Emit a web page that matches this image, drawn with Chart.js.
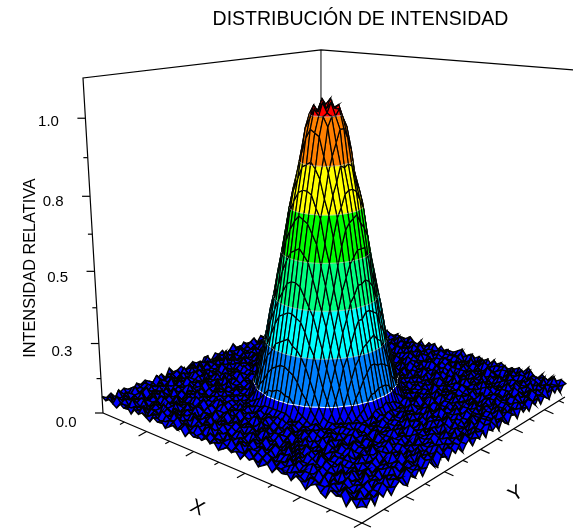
<!DOCTYPE html>
<html>
<head>
<meta charset="utf-8">
<title>Distribución de intensidad</title>
<script src="https://cdn.jsdelivr.net/npm/chart.js@4/dist/chart.umd.min.js"></script>
<style>
  html, body { margin: 0; padding: 0; background: #fff; }
  canvas { display: block; }
</style>
</head>
<body>
<canvas id="surfaceChart" width="573" height="529"></canvas>
<script>
// surface heights, in hundredths (row = X, column = Y)
const heights = [
[6,5,6,4,5,6,5,4,6,5,6,5,4,5,6,4,7,5,5,6,4,5,6,5,3,6,5,4,6,5,6,4,5,7,5,4,6,5,5,6,4,6,5,5,4,6,5,7,4,5,6,5,4,6,5,6,5,4,5,6,5],
[5,6,4,7,5,4,6,5,5,6,4,5,7,5,4,6,5,6,4,5,5,6,4,6,5,7,4,5,6,5,4,6,5,5,6,4,5,6,7,4,5,5,6,4,6,5,4,5,6,5,7,4,6,5,5,4,6,5,6,4,5],
[6,4,5,5,6,5,7,4,5,6,5,4,6,5,6,5,4,5,7,4,6,5,5,4,6,5,5,6,4,7,5,5,4,6,5,6,4,5,5,6,4,6,5,7,5,4,6,5,5,6,4,5,5,6,4,6,7,5,4,5,6],
[5,7,5,6,4,5,5,6,4,6,5,6,4,5,5,4,6,6,5,5,4,7,5,6,4,5,6,5,5,4,6,5,7,4,5,5,6,4,6,5,5,4,7,5,6,4,5,6,5,4,6,5,6,4,5,7,5,4,6,5,4],
[4,5,6,5,5,4,6,7,5,4,6,5,5,7,4,6,5,4,6,5,6,5,4,5,6,5,4,7,5,6,4,5,6,5,4,6,5,7,5,4,6,5,5,6,4,5,6,4,7,5,5,6,4,5,6,5,4,6,5,6,5],
[6,5,4,6,5,7,4,5,6,5,4,6,5,4,6,5,6,5,7,4,5,6,4,5,5,6,5,4,6,5,5,7,4,6,5,4,5,6,4,5,6,5,7,4,5,6,5,4,6,5,5,4,6,7,4,5,6,5,5,4,6],
[5,4,7,5,6,4,5,6,5,5,6,4,6,5,5,7,4,5,6,5,4,6,5,5,7,4,6,5,4,5,6,5,5,6,4,7,5,4,6,5,5,6,4,5,6,5,4,7,5,5,6,4,5,6,5,4,6,5,7,4,5],
[6,5,5,4,6,5,6,4,7,5,4,5,6,5,4,6,5,5,4,7,5,5,6,4,6,5,4,6,5,7,4,5,6,5,4,6,5,5,6,4,7,5,5,4,6,5,6,5,4,6,5,7,4,5,5,6,4,6,5,5,6],
[4,6,5,7,4,5,5,6,5,4,7,5,5,6,4,5,6,4,6,5,6,4,5,7,5,4,5,6,6,4,5,5,7,4,6,5,6,4,5,5,6,4,6,5,7,4,5,5,6,4,5,6,5,4,7,5,5,6,4,6,5],
[6,5,6,4,5,6,4,5,6,5,5,6,4,7,5,5,4,6,5,5,7,4,6,5,5,6,4,5,6,5,4,7,5,5,4,6,5,6,4,7,5,5,6,4,5,6,5,4,6,5,5,6,4,7,5,4,6,5,5,6,4],
[5,7,4,5,6,5,7,4,5,6,4,5,6,5,4,6,7,5,4,6,5,4,6,5,6,5,7,4,5,5,6,4,6,5,5,7,4,5,6,5,4,6,5,5,6,4,7,5,5,6,4,5,6,5,4,6,5,7,4,5,6],
[6,4,6,5,5,4,6,5,7,4,5,6,5,5,6,4,5,5,6,4,7,5,5,4,6,5,6,4,7,5,5,6,4,5,6,5,5,4,6,5,7,4,5,6,4,5,6,5,4,7,5,6,4,5,6,5,4,6,5,5,4],
[5,5,6,4,7,5,5,6,4,5,6,4,7,5,5,6,4,6,5,5,4,6,5,7,4,5,6,5,5,4,6,5,6,4,5,7,5,4,6,5,5,6,4,5,7,5,4,6,5,5,6,4,7,5,5,6,4,5,6,5,7],
[4,6,5,5,6,4,7,5,5,4,6,5,5,6,4,5,6,5,4,7,5,6,4,5,5,6,4,7,5,6,5,4,5,6,4,5,6,5,7,4,5,6,5,4,6,5,5,6,4,5,6,5,5,4,6,7,5,4,5,6,5],
[6,5,7,4,5,6,4,5,6,5,7,4,6,5,4,6,5,5,6,4,5,5,6,5,4,6,5,6,4,5,5,7,4,6,5,5,4,6,5,6,4,5,5,7,4,6,5,4,6,5,7,5,4,5,6,4,6,5,5,4,6],
[5,4,6,5,6,4,5,7,5,4,6,5,5,6,5,4,6,5,5,6,5,4,5,5,6,6,7,8,7,7,7,6,7,6,5,5,6,5,4,5,6,5,5,4,6,5,4,6,7,5,5,4,6,5,6,4,5,7,5,6,4],
[6,5,5,7,4,5,6,5,4,6,7,4,5,6,6,5,4,5,6,5,5,6,6,7,8,10,12,13,13,12,12,11,10,8,7,6,5,5,6,4,5,6,5,5,5,6,4,5,5,6,7,4,5,6,5,4,6,5,6,4,5],
[4,6,5,4,6,5,5,7,6,4,5,5,6,4,5,6,5,4,5,6,5,7,9,12,14,17,19,20,21,21,20,19,17,14,12,9,7,6,5,5,4,6,5,5,6,4,7,5,6,4,5,6,5,5,7,4,6,5,4,6,5],
[5,6,7,5,4,6,5,4,5,6,6,4,7,5,4,5,6,5,5,6,7,10,14,18,22,25,27,28,29,29,28,26,24,22,18,15,10,7,5,6,5,4,5,6,4,5,6,5,4,6,5,7,4,6,5,5,6,4,7,5,6],
[6,4,5,6,5,7,4,6,5,4,5,6,5,6,6,5,4,6,5,8,12,16,21,25,29,33,36,37,38,38,37,35,33,29,25,21,17,12,8,5,6,5,4,5,5,7,4,6,5,5,6,4,5,6,5,4,6,5,6,7,4],
[5,5,6,4,7,5,5,6,4,6,5,7,4,5,5,6,5,5,7,12,17,22,27,33,37,41,44,47,48,49,46,44,41,37,32,27,22,17,12,8,5,4,6,5,6,4,5,5,7,4,6,5,6,4,5,7,5,4,5,6,5],
[6,7,4,5,6,4,6,5,7,4,5,5,6,4,4,5,6,7,10,16,22,28,35,40,45,50,54,57,58,58,57,55,50,45,40,34,28,22,16,10,7,5,5,6,5,6,4,5,6,5,4,7,5,6,5,4,6,5,4,5,6],
[4,5,6,5,5,6,7,4,5,6,4,6,5,7,5,6,6,9,14,21,27,35,41,48,54,60,64,67,69,68,67,65,60,54,48,42,35,27,21,14,9,6,5,4,6,5,7,4,5,6,5,4,6,5,5,7,4,6,5,5,4],
[6,5,7,4,6,5,4,5,6,7,5,4,6,5,6,5,7,12,18,25,33,40,48,55,62,69,73,76,77,78,75,74,69,62,55,47,40,33,25,18,12,7,5,5,4,6,5,6,7,4,5,6,5,4,6,5,5,4,7,6,5],
[5,4,5,6,5,7,5,6,4,5,6,7,5,4,4,6,8,14,22,29,37,45,54,62,70,76,80,84,85,86,83,81,75,70,62,55,45,37,29,22,14,8,6,5,6,5,4,7,5,5,6,4,5,6,7,4,5,6,5,4,6],
[6,6,4,7,5,4,6,5,5,7,4,5,6,5,5,6,10,17,24,33,41,50,60,69,76,82,88,93,96,95,94,87,82,77,68,60,51,41,33,24,17,10,6,5,7,4,5,6,4,6,5,7,4,5,6,5,4,6,5,7,5],
[5,5,6,4,6,7,4,5,6,4,6,5,4,6,6,7,12,19,27,36,44,54,64,73,80,88,96,100,102,100,101,95,89,80,72,64,54,45,36,27,19,12,7,4,5,6,5,4,6,5,5,6,4,7,5,5,6,4,6,5,4],
[7,4,5,6,5,5,6,7,4,5,5,6,7,4,5,7,12,20,28,37,47,57,67,76,84,93,99,103,101,104,101,100,92,84,77,67,57,47,37,28,20,13,7,5,6,4,6,7,5,4,5,6,5,7,4,6,5,5,6,4,6],
[5,6,5,4,6,4,5,6,5,6,4,7,5,5,6,7,13,21,29,38,48,58,69,77,85,96,102,101,105,103,104,100,97,85,78,69,58,48,38,29,21,13,7,6,5,5,6,4,7,5,6,4,6,5,5,4,7,5,6,5,4],
[6,5,4,7,5,6,5,4,6,5,5,4,6,6,5,7,13,21,30,38,48,59,68,77,86,95,100,104,102,105,102,102,96,86,77,68,58,49,38,29,22,13,7,5,6,4,5,6,5,7,4,5,6,4,6,5,6,7,4,5,6],
[4,6,6,5,5,7,4,5,6,4,7,5,4,5,6,7,12,20,28,37,47,57,67,76,84,94,100,101,104,102,103,99,93,84,76,66,57,47,38,28,20,12,8,5,7,5,6,4,5,6,5,4,7,5,4,6,5,5,4,6,5],
[5,5,7,4,6,5,6,5,4,6,5,5,6,4,5,7,12,19,27,36,44,55,64,72,81,88,97,100,100,102,99,96,88,81,73,64,53,44,36,27,18,12,7,6,4,6,5,5,6,4,7,5,6,5,5,4,6,6,5,7,4],
[6,4,5,6,5,4,7,5,6,5,6,4,5,7,4,6,10,17,25,33,41,50,61,69,75,83,88,92,96,96,93,89,81,76,69,60,50,42,33,24,17,10,6,5,5,6,4,7,5,5,6,4,5,7,6,5,4,6,5,5,6],
[5,6,7,5,4,6,5,4,7,5,4,6,5,6,6,5,8,14,22,29,38,45,54,61,70,76,80,85,84,85,84,79,76,71,62,54,46,37,29,21,14,8,5,6,4,5,6,5,7,4,6,5,5,4,6,7,5,4,6,5,4],
[6,5,4,6,7,5,4,6,5,6,5,5,4,6,5,6,7,12,18,26,33,40,48,55,63,69,72,76,77,77,76,73,70,62,54,48,40,33,25,18,12,7,6,4,6,7,5,4,6,5,5,6,4,6,5,4,6,7,5,6,5],
[4,5,6,5,5,6,7,5,4,6,5,7,6,4,4,5,6,9,14,21,28,35,41,47,54,60,65,67,68,69,66,64,61,54,48,41,36,27,21,14,9,6,5,6,5,4,6,5,5,7,4,6,5,5,6,4,5,6,7,4,5],
[6,7,4,5,6,4,5,6,7,4,5,6,4,5,6,5,5,7,10,16,22,28,34,40,46,50,54,56,58,58,58,54,49,45,41,35,28,23,16,10,7,5,6,5,7,4,6,5,6,4,5,7,5,4,6,5,5,6,4,5,6],
[5,5,6,7,4,5,6,4,5,6,7,4,5,6,5,4,6,5,7,12,17,22,27,33,37,42,44,47,47,48,47,45,41,36,33,27,22,17,12,7,6,5,4,6,5,6,4,7,5,5,4,6,5,6,7,4,5,6,5,4,7],
[6,4,5,5,6,7,4,5,6,4,6,5,7,5,6,5,5,4,6,8,12,16,22,25,29,33,36,36,38,38,37,36,32,29,25,21,16,12,9,5,5,6,5,4,6,5,5,6,4,6,7,5,4,5,6,5,4,6,7,5,5],
[4,6,7,5,4,6,5,7,4,6,5,4,6,7,5,6,4,5,6,5,7,10,14,18,22,24,27,28,29,30,28,27,24,21,18,14,10,7,5,6,4,5,6,5,5,7,4,5,6,5,4,6,7,5,4,6,5,5,4,6,6],
[5,5,6,4,6,5,7,4,6,5,7,5,4,6,4,5,6,5,5,6,5,7,9,12,14,17,19,21,21,20,20,19,18,14,12,9,7,5,6,5,5,6,4,5,6,4,5,7,5,6,4,5,6,4,7,5,6,4,5,7,5],
[6,7,4,5,6,5,4,6,5,6,4,6,5,5,5,6,5,4,6,5,6,5,6,7,8,10,12,12,13,13,13,12,10,8,7,6,5,6,5,4,5,5,6,5,4,6,5,6,4,5,7,4,6,5,5,6,4,7,5,4,6],
[4,5,6,5,7,4,6,5,7,4,5,5,7,4,6,4,5,5,6,5,4,6,5,5,5,6,7,7,7,8,7,7,6,5,6,5,5,4,6,5,6,5,4,6,5,7,5,4,6,5,5,4,6,7,4,5,6,5,4,6,5],
[6,5,5,7,4,6,5,4,6,5,6,4,5,6,5,7,4,5,6,4,5,6,5,4,7,5,6,5,4,6,5,5,6,4,7,5,5,6,4,5,6,4,7,5,5,6,4,5,6,7,4,5,6,5,5,4,6,5,7,4,6],
[5,4,6,5,6,5,7,4,5,6,4,7,5,4,6,5,6,5,7,5,4,6,5,6,5,4,6,7,5,4,5,6,5,5,4,6,7,4,5,6,5,5,6,4,6,5,5,7,4,5,6,5,4,6,5,6,4,7,5,5,4],
[6,5,7,4,5,5,6,4,7,5,5,6,4,6,5,4,7,5,5,6,4,5,6,5,7,4,5,6,5,6,4,5,7,6,5,4,5,6,5,4,7,5,5,6,4,5,6,4,6,5,5,7,4,5,6,4,5,6,5,7,5],
[4,6,5,5,6,4,5,7,5,4,6,5,7,4,5,6,5,4,6,5,6,7,4,5,6,5,6,4,5,7,5,6,4,5,5,6,4,7,5,6,4,5,6,5,5,4,6,5,7,4,6,5,5,6,4,7,5,4,6,5,6],
[6,5,6,4,7,5,4,6,5,6,4,5,6,5,7,4,5,6,5,4,7,5,5,6,4,5,6,5,7,4,6,5,5,6,4,5,6,5,4,7,5,6,4,5,6,7,4,5,5,6,4,5,7,5,4,6,5,5,6,4,5],
[5,4,6,5,5,6,7,4,5,6,5,4,7,5,6,5,4,6,5,7,4,5,6,5,5,6,4,7,5,5,4,6,5,7,5,4,6,5,6,4,5,7,5,4,5,6,5,4,6,5,7,4,5,6,5,5,4,6,7,5,4],
[3,6,5,7,4,5,6,5,4,6,7,5,4,5,6,4,6,5,5,6,4,5,7,4,6,5,5,4,6,5,6,4,7,5,5,6,4,5,6,5,7,4,6,5,5,4,6,5,4,7,5,6,4,5,6,5,4,6,5,6,5],
[5,6,4,5,6,5,4,7,5,6,4,5,6,5,4,7,5,5,6,4,6,5,5,6,4,7,5,5,6,4,5,6,5,4,7,5,6,4,5,6,5,5,4,6,7,5,4,6,5,5,6,4,5,7,5,4,6,5,6,4,6],
[6,5,7,4,6,5,6,4,5,6,5,7,4,6,5,5,4,6,7,5,4,5,6,5,4,6,5,7,4,6,5,5,6,4,6,5,5,7,4,5,6,4,6,5,5,6,4,7,5,6,4,5,6,4,5,7,5,5,4,6,5],
[4,5,5,6,4,7,5,5,6,4,6,5,5,4,7,6,5,4,5,6,7,4,5,6,5,5,6,4,5,7,4,6,5,6,4,5,7,5,6,4,5,6,5,4,7,5,5,6,4,5,6,5,7,4,6,5,4,6,5,5,7],
[3,6,6,5,5,4,7,6,4,5,5,6,7,4,5,6,5,5,4,6,5,6,4,7,5,5,4,6,6,5,4,5,7,5,4,6,5,4,6,5,7,5,4,6,5,5,6,4,5,6,4,7,5,5,6,4,5,6,4,7,5],
[6,5,4,6,7,5,5,4,6,6,4,5,5,6,4,7,5,6,4,5,6,5,7,4,5,6,5,5,4,7,6,4,5,6,5,5,7,4,5,6,4,5,6,7,4,5,6,5,4,6,5,5,7,4,5,6,5,4,6,5,4],
[5,4,6,5,5,6,4,7,5,4,6,5,6,4,5,5,7,4,6,5,4,6,5,5,6,7,4,5,6,4,5,7,5,6,4,5,6,5,5,4,6,6,5,4,7,5,5,4,6,5,7,4,6,5,5,4,7,5,6,5,6],
[6,7,5,4,6,5,4,5,6,7,4,6,5,5,6,4,5,6,5,7,5,4,5,6,4,6,5,7,4,5,6,5,5,4,6,7,4,5,5,6,4,5,7,5,6,4,5,6,5,4,6,5,4,6,7,5,6,4,5,6,4],
[3,5,4,6,6,7,4,6,5,4,5,7,6,4,5,6,5,4,7,5,6,4,6,5,5,4,6,5,7,4,5,6,4,7,5,5,6,4,5,6,5,7,4,5,6,5,4,6,7,5,5,4,6,5,4,6,5,7,4,5,6],
[6,5,7,4,5,5,6,4,7,5,6,4,5,6,5,5,4,7,5,6,4,5,7,4,6,5,5,6,4,6,5,4,6,5,7,4,6,5,5,4,7,5,6,4,5,6,5,5,4,6,5,7,4,6,5,5,6,4,5,7,5],
[4,6,5,6,4,5,7,5,4,6,5,5,7,4,5,6,4,6,5,5,7,4,5,6,5,6,4,5,7,5,4,6,5,5,6,4,6,7,4,5,5,6,4,6,5,7,4,5,6,5,4,6,5,5,7,4,6,5,5,4,6],
[5,4,6,3,6,4,6,3,5,6,4,3,6,4,6,3,5,7,4,3,6,5,3,6,4,6,3,5,6,3,5,4,6,3,7,4,5,3,6,4,3,6,5,3,6,4,5,3,6,4,6,3,5,4,3,6,4,6,3,5,5]
];

const bandLevels = [0.1, 0.25, 0.4, 0.55, 0.7, 0.85, 1.0];
const bandColors = ["#0000ff", "#0080ff", "#00ffff", "#00ff80", "#00ff00", "#ffff00", "#ff8000", "#ff0000"];

const zMax = 1.125;
const zTicks = [0, 0.125, 0.25, 0.375, 0.5, 0.625, 0.75, 0.875, 1];
const zTickLabels = ["0.0", "", "0.3", "", "0.5", "", "0.8", "", "1.0"];
const xTicks = [0.1, 0.2, 0.3, 0.4, 0.5, 0.6, 0.7, 0.8, 0.9, 1];
const yTicks = [0, 0.0875, 0.175, 0.2625, 0.35, 0.4375, 0.525, 0.6125, 0.7, 0.7875, 0.875, 0.9625];

// perspective camera fitted to the box corners
const camera = [
  [190.0, 288.6, -23.98, 103],
  [10.4, -14.7, -303.6, 413],
  [-0.1905, 0.22, -0.0747, 1]
];

function project(u, v, z) {
  const w = camera[2][0] * u + camera[2][1] * v + camera[2][2] * z + camera[2][3];
  return {
    x: (camera[0][0] * u + camera[0][1] * v + camera[0][2] * z + camera[0][3]) / w,
    y: (camera[1][0] * u + camera[1][1] * v + camera[1][2] * z + camera[1][3]) / w
  };
}

function depth(u, v, z) {
  return camera[2][0] * u + camera[2][1] * v + camera[2][2] * z + camera[2][3];
}

function lineSet(points, color, width) {
  return { data: points, showLine: true, fill: false, borderColor: color, borderWidth: width, pointRadius: 0, tension: 0 };
}

function fillSet(points, color, edge, width) {
  return { data: points, showLine: true, fill: "shape", backgroundColor: color, borderColor: edge, borderWidth: width, pointRadius: 0, tension: 0 };
}

// cut a polygon to the part above (sign 1) or below (sign -1) a level
function clipLevel(poly, level, sign) {
  const out = [];
  for (let k = 0; k < poly.length; k++) {
    const a = poly[k], b = poly[(k + 1) % poly.length];
    const da = (a.z - level) * sign, db = (b.z - level) * sign;
    if (da >= 0) out.push(a);
    if ((da > 0 && db < 0) || (da < 0 && db > 0)) {
      const t = da / (da - db);
      out.push({ u: a.u + (b.u - a.u) * t, v: a.v + (b.v - a.v) * t, z: level });
    }
  }
  return out;
}

const lastIndex = heights.length - 1;
const cells = [];
for (let i = 0; i < lastIndex; i++) {
  for (let j = 0; j < lastIndex; j++) {
    const corners = [[i, j], [i + 1, j], [i + 1, j + 1], [i, j + 1]].map(c => ({
      u: c[0] / lastIndex, v: c[1] / lastIndex, z: heights[c[0]][c[1]] / 100
    }));
    const mean = corners.reduce((s, c) => s + c.z, 0) / 4;
    cells.push({ corners: corners, far: depth((i + 0.5) / lastIndex, (j + 0.5) / lastIndex, mean) });
  }
}
cells.sort((a, b) => b.far - a.far);

const toScreen = c => project(c.u, c.v, c.z);
const datasets = [];

function bandOf(z) {
  let b = 0;
  while (b < bandLevels.length && z >= bandLevels[b]) b++;
  return b;
}

// back walls and floor edges
const boxBack = [[0, 0, 0], [0, 0, zMax], [0, 1, zMax], [1, 1, zMax], [1, 1, 0], [0, 1, 0], [0, 0, 0]];
datasets.push(lineSet(boxBack.map(c => project(c[0], c[1], c[2])), "#000", 1.2));
datasets.push(lineSet([project(0, 1, 0), project(0, 1, zMax)], "#000", 1));

// surface, painted far to near
cells.forEach(cell => {
  const zs = cell.corners.map(c => c.z);
  const low = Math.min(...zs), high = Math.max(...zs);
  const outline = cell.corners.map(toScreen);
  outline.push(outline[0]);
  if (bandOf(low) === bandOf(high)) {
    datasets.push(fillSet(outline, bandColors[bandOf(low)], "#000", bandOf(low) === 0 ? 1.45 : 1.2));
    return;
  }
  const contours = [];
  for (let b = bandOf(low); b <= bandOf(high); b++) {
    const lo = b === 0 ? -1 : bandLevels[b - 1];
    const hi = b === bandLevels.length ? 9 : bandLevels[b];
    const piece = clipLevel(clipLevel(cell.corners, lo, 1), hi, -1);
    if (piece.length < 3) continue;
    const path = piece.map(toScreen);
    path.push(path[0]);
    datasets.push(fillSet(path, bandColors[b], bandColors[b], 0.3));
    const edge = piece.filter(c => c.z === hi);
    if (edge.length === 2) {
      contours.push(lineSet(edge.map(toScreen), hi === 0.1 ? "#ffffff" : "#c8c8c8", hi === 0.1 ? 1 : 0.7));
    }
  }
  datasets.push(lineSet(outline, "#000", 1.2));
  contours.forEach(c => datasets.push(c));
});

// front floor edges and tick marks
datasets.push(lineSet([project(0, 0, 0), project(1, 0, 0), project(1, 1, 0)], "#000", 1.3));
xTicks.forEach((t, k) => {
  const p = project(t, 0, 0), len = k % 2 ? 1 : 0.55;
  datasets.push(lineSet([p, { x: p.x - 8 * len, y: p.y + 4.5 * len }], "#000", 1.2));
});
yTicks.forEach((t, k) => {
  const p = project(1, t, 0), len = k % 2 ? 0.55 : 1;
  datasets.push(lineSet([p, { x: p.x + 9 * len, y: p.y + 4 * len }], "#000", 1.2));
});
zTicks.forEach((t, k) => {
  const p = project(0, 0, t), len = k % 2 ? 0.55 : 1;
  datasets.push(lineSet([p, { x: p.x - 8 * len, y: p.y }], "#000", 1.2));
});

const textPlugin = {
  id: "surfaceText",
  afterDraw(chart) {
    const ctx = chart.ctx, sx = chart.scales.x, sy = chart.scales.y;
    const put = (text, x, y, font, angle, align) => {
      ctx.save();
      ctx.translate(sx.getPixelForValue(x), sy.getPixelForValue(y));
      ctx.rotate(angle);
      ctx.font = font;
      ctx.fillStyle = "#000";
      ctx.textAlign = align;
      ctx.textBaseline = "middle";
      ctx.fillText(text, 0, 0);
      ctx.restore();
    };
    put("DISTRIBUCIÓN DE INTENSIDAD", 360.5, 20, "19.5px 'Liberation Sans', Arial, sans-serif", 0, "center");
    put("INTENSIDAD RELATIVA", 31, 268, "16.3px 'Liberation Sans', Arial, sans-serif", -Math.PI / 2, "center");
    zTicks.forEach((t, k) => {
      if (!zTickLabels[k]) return;
      const p = project(0, 0, t);
      put(zTickLabels[k], p.x - 26.5, p.y + 4 + (1 - t) * 6, "15px 'Liberation Sans', Arial, sans-serif", 0, "right");
    });
    put("X", 197, 508, "20px 'Liberation Sans', Arial, sans-serif", 0.43, "center");
    put("Y", 516, 494, "20px 'Liberation Sans', Arial, sans-serif", -0.58, "center");
  }
};

new Chart(document.getElementById("surfaceChart"), {
  type: "scatter",
  data: { datasets: datasets.reverse() },
  plugins: [textPlugin],
  options: {
    responsive: false,
    animation: false,
    parsing: false,
    events: [],
    layout: { padding: 0 },
    scales: {
      x: { type: "linear", display: false, min: 0, max: 573 },
      y: { type: "linear", display: false, min: 0, max: 529, reverse: true }
    },
    plugins: {
      legend: { display: false },
      tooltip: { enabled: false },
      filler: { propagate: false }
    }
  }
});
</script>
</body>
</html>
